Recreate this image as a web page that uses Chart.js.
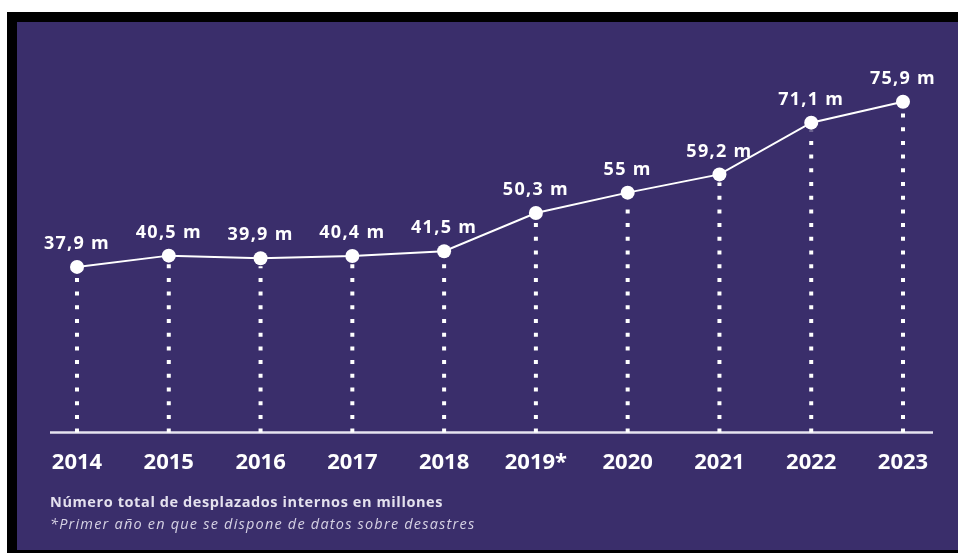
<!DOCTYPE html>
<html lang="es">
<head>
<meta charset="utf-8">
<script src="https://cdn.jsdelivr.net/npm/chart.js@4/dist/chart.umd.min.js"></script>
<style>
  body { margin: 0; background: #fff; width: 958px; height: 553px; overflow: hidden; position: relative; font-family: "Open Sans", "Noto Sans", sans-serif; }
  #frame { position: absolute; left: 7px; top: 12px; width: 951px; height: 541px; background: #000; }
  #panel { position: absolute; left: 17px; top: 22px; width: 941px; height: 528px; background: #3a2e6b; }
  #chart { position: absolute; left: 0; top: 0; }
  .note { position: absolute; left: 50px; color: #e4e1ee; font-size: 14.5px; white-space: nowrap; line-height: 20px; }
  #n1 { top: 492px; font-weight: 700; letter-spacing: 0.6px; }
  #n2 { top: 514px; font-style: italic; color: #d6d2e4; letter-spacing: 1.2px; }
</style>
</head>
<body>
<div id="frame"></div>
<div id="panel"></div>
<canvas id="chart" width="958" height="553"></canvas>
<div class="note" id="n1">Número total de desplazados internos en millones</div>
<div class="note" id="n2">*Primer año en que se dispone de datos sobre desastres</div>
<script>
// desplazados internos (millones) por año
const years = ["2014", "2015", "2016", "2017", "2018", "2019*", "2020", "2021", "2022", "2023"];
const displaced = [37.9, 40.5, 39.9, 40.4, 41.5, 50.3, 55, 59.2, 71.1, 75.9];

const fmt = v => String(v).replace('.', ',') + ' m';

// baseline + dotted drop lines under each point, value labels above
const dropLines = {
  id: 'dropLines',
  beforeDatasetsDraw(chart) {
    const { ctx, chartArea } = chart;
    const base = chart.scales.y.getPixelForValue(0);
    ctx.save();
    ctx.strokeStyle = '#e6e3ef';
    ctx.lineWidth = 2.5;
    ctx.beginPath();
    ctx.moveTo(chartArea.left - 27, base + 1);
    ctx.lineTo(chartArea.right + 30, base + 1);
    ctx.stroke();

    ctx.strokeStyle = '#ffffff';
    ctx.lineWidth = 4;
    ctx.setLineDash([4, 9.7]);
    chart.getDatasetMeta(0).data.forEach(pt => {
      ctx.beginPath();
      ctx.moveTo(pt.x, base + 1);
      ctx.lineTo(pt.x, pt.y + 8);
      ctx.stroke();
    });
    ctx.restore();
  },
  afterDatasetsDraw(chart) {
    const { ctx } = chart;
    ctx.save();
    ctx.fillStyle = '#ffffff';
    ctx.font = '700 18px "Open Sans", "Noto Sans", sans-serif';
    ctx.letterSpacing = '1.3px';
    ctx.textAlign = 'center';
    ctx.textBaseline = 'middle';
    chart.getDatasetMeta(0).data.forEach((pt, i) => {
      ctx.fillText(fmt(displaced[i]), pt.x, pt.y - 23);
    });
    ctx.restore();
  }
};

new Chart(document.getElementById('chart'), {
  type: 'line',
  data: {
    labels: years,
    datasets: [{
      data: displaced,
      borderColor: '#ffffff',
      borderWidth: 2,
      pointRadius: 7,
      pointBackgroundColor: '#ffffff',
      pointBorderWidth: 0,
      tension: 0
    }]
  },
  options: {
    responsive: false,
    animation: false,
    layout: { padding: { left: 77, right: 55, top: 84, bottom: 67 } },
    plugins: { legend: { display: false }, tooltip: { enabled: false } },
    scales: {
      x: {
        offset: false,
        grid: { display: false },
        border: { display: false },
        ticks: {
          color: '#ffffff',
          padding: 10,
          maxRotation: 0,
          font: { family: '"Open Sans", "Noto Sans", sans-serif', size: 22, weight: '700' }
        }
      },
      y: { display: false, min: 0, max: 80 }
    }
  },
  plugins: [dropLines]
});
</script>
</body>
</html>
